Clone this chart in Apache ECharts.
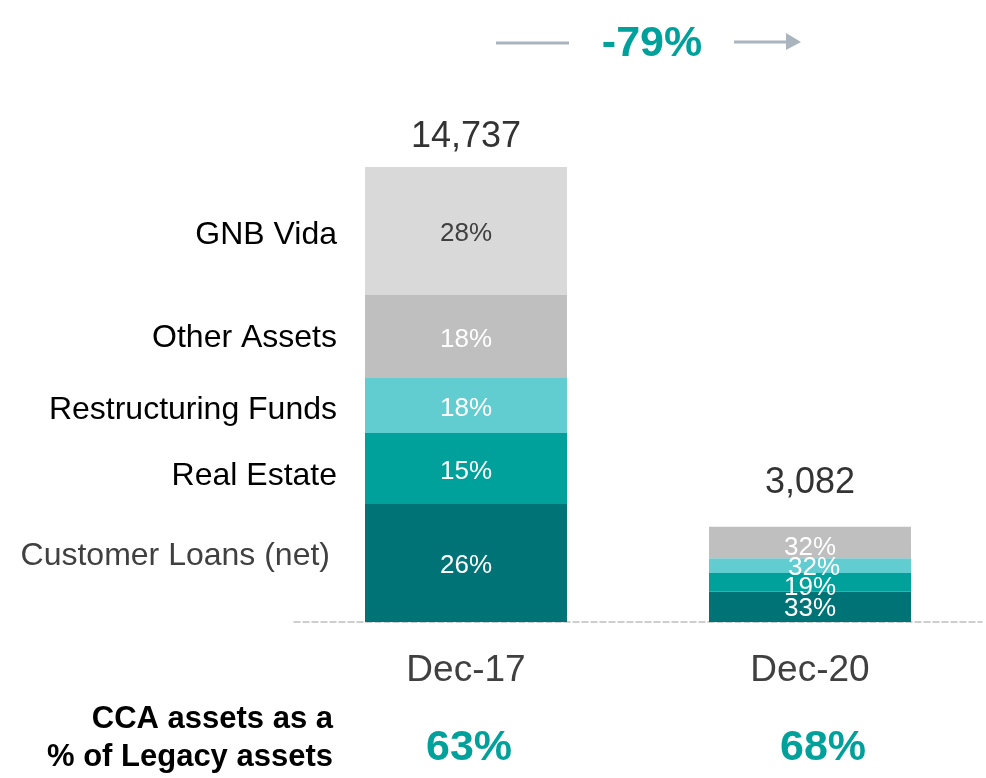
<!DOCTYPE html>
<html>
<head>
<meta charset="utf-8">
<script src="https://cdn.jsdelivr.net/npm/echarts@6/dist/echarts.min.js"></script>
<style>
  html, body { margin: 0; padding: 0; background: #fff; }
  #main { width: 986px; height: 778px; }
</style>
</head>
<body>
<div id="main"></div>
<script>
// categories and data
var periods = ['Dec-17', 'Dec-20'];
var assetNames = ['Customer Loans (net)', 'Real Estate', 'Restructuring Funds', 'Other Assets', 'GNB Vida'];
var customerLoans = [3822, 986];
var realEstate = [2300, 600];
var restructuringFunds = [1781, 476];
var otherAssets = [2688, 1020];
var gnbVida = [4146, 0];
// percentage labels as printed in the bars
var loansPct = ['26%', '33%'];
var realEstatePct = ['15%', '19%'];
var restructPct = ['18%', '32%'];
var otherPct = ['18%', '32%'];
var vidaPct = ['28%', ''];
var totals = [14737, 3082];
var ccaShare = ['63%', '68%'];

var FONT = '"Liberation Sans", Arial, Helvetica, sans-serif';
var colors = ['#007377', '#00a19a', '#62cdd0', '#bfbfbf', '#d9d9d9'];
var labelColors = ['#fff', '#fff', '#fff', '#fff', '#404040'];
var nameColors = ['#404040', '#000', '#000', '#000', '#000'];
var nameShift = [[-7, -7], [0, 8], [0, 5], [0, 2], [0, 4]];
// small nudges of the in-bar labels of the second bar (they overlap in the original)
var pctShift2 = [[0, 2], [0, 6], [4, 2], [0, 5], [0, 0]];
var values = [customerLoans, realEstate, restructuringFunds, otherAssets, gnbVida];
var pcts = [loansPct, realEstatePct, restructPct, otherPct, vidaPct];

var myChart = echarts.init(document.getElementById('main'));

var series = [];
for (var i = 0; i < values.length; i++) {
    (function(i){
        series.push({
            name: assetNames[i],
            type: 'bar',
            stack: 'assets',
            barWidth: 202,
            data: values[i].map(function(v, j){
                return j === 1 ? { value: v, label: { offset: pctShift2[i] } } : v;
            }),
            itemStyle: { color: colors[i] },
            label: {
                show: true,
                position: 'inside',
                offset: [0, 3],
                fontFamily: FONT,
                fontSize: 26,
                color: labelColors[i],
                formatter: function(p){ return pcts[i][p.dataIndex]; }
            }
        });
    })(i);
}
// zero-height bar on top of the stack to carry the total
var totalDistance = [12, 26];
series.push({
    name: 'Total',
    type: 'bar',
    stack: 'assets',
    barWidth: 202,
    data: totals.map(function(t, j){
        return { value: 0, label: { distance: totalDistance[j] } };
    }),
    itemStyle: { color: 'transparent' },
    label: {
        show: true,
        position: 'top',
        fontFamily: FONT,
        fontSize: 36,
        color: '#333',
        formatter: function(p){ return totals[p.dataIndex].toLocaleString('en-US'); }
    }
});

var maxTotal = Math.max.apply(null, totals);
var change = Math.round((totals[1] / totals[0] - 1) * 100);

option = {
    animation: false,
    grid: { left: 294, right: 4, top: 167, bottom: 156 },
    xAxis: [
        {
            type: 'category',
            data: periods,
            axisLine: { lineStyle: { color: '#bfbfbf', type: 'dashed', width: 1.5 } },
            axisTick: { show: false },
            axisLabel: { fontFamily: FONT, fontSize: 37, color: '#404040', margin: 30 }
        },
        {
            type: 'category',
            data: ccaShare,
            position: 'bottom',
            offset: 97,
            axisLine: { show: false },
            axisTick: { show: false },
            axisLabel: {
                margin: 8,
                formatter: function(v, idx){ return (idx === 0 ? '{a|' : '{b|') + v + '}'; },
                rich: {
                    a: { fontFamily: FONT, fontSize: 43, fontWeight: 'bold', color: '#00a19a', padding: [0, 0, 0, 6] },
                    b: { fontFamily: FONT, fontSize: 43, fontWeight: 'bold', color: '#00a19a', padding: [0, 0, 0, 26] }
                }
            }
        }
    ],
    yAxis: {
        type: 'value',
        min: 0,
        max: maxTotal,
        show: false
    },
    series: series
};
myChart.setOption(option);

// names to the left of the first bar, at the middle of each segment
var graphics = [];
var cum = 0;
for (var k = 0; k < values.length; k++) {
    var mid = cum + values[k][0] / 2;
    cum += values[k][0];
    var pt = myChart.convertToPixel({ gridIndex: 0 }, [0, mid]);
    graphics.push({
        type: 'text',
        x: pt[0] - 101 - 28 + nameShift[k][0],
        y: pt[1] + nameShift[k][1],
        style: {
            text: assetNames[k],
            font: '32px ' + FONT,
            fill: nameColors[k],
            align: 'right',
            verticalAlign: 'middle'
        }
    });
}
// row caption at the bottom
graphics.push({
    type: 'text',
    x: 333,
    y: 738,
    style: {
        text: 'CCA assets as a\n% of Legacy assets',
        font: 'bold 31px ' + FONT,
        fill: '#000',
        align: 'right',
        verticalAlign: 'middle',
        lineHeight: 38
    }
});
// change between the periods
graphics.push({
    type: 'text',
    x: 652,
    y: 44,
    style: {
        text: change + '%',
        font: 'bold 43px ' + FONT,
        fill: '#00a19a',
        align: 'center',
        verticalAlign: 'middle'
    }
});
graphics.push({
    type: 'line',
    shape: { x1: 496, y1: 43, x2: 569, y2: 43 },
    style: { stroke: '#aab4be', lineWidth: 3 }
});
graphics.push({
    type: 'line',
    shape: { x1: 734, y1: 42, x2: 790, y2: 42 },
    style: { stroke: '#aab4be', lineWidth: 3 }
});
graphics.push({
    type: 'polygon',
    shape: { points: [[786, 33], [801, 42], [786, 50]] },
    style: { fill: '#aab4be' }
});
myChart.setOption({ graphic: graphics });
</script>
</body>
</html>
